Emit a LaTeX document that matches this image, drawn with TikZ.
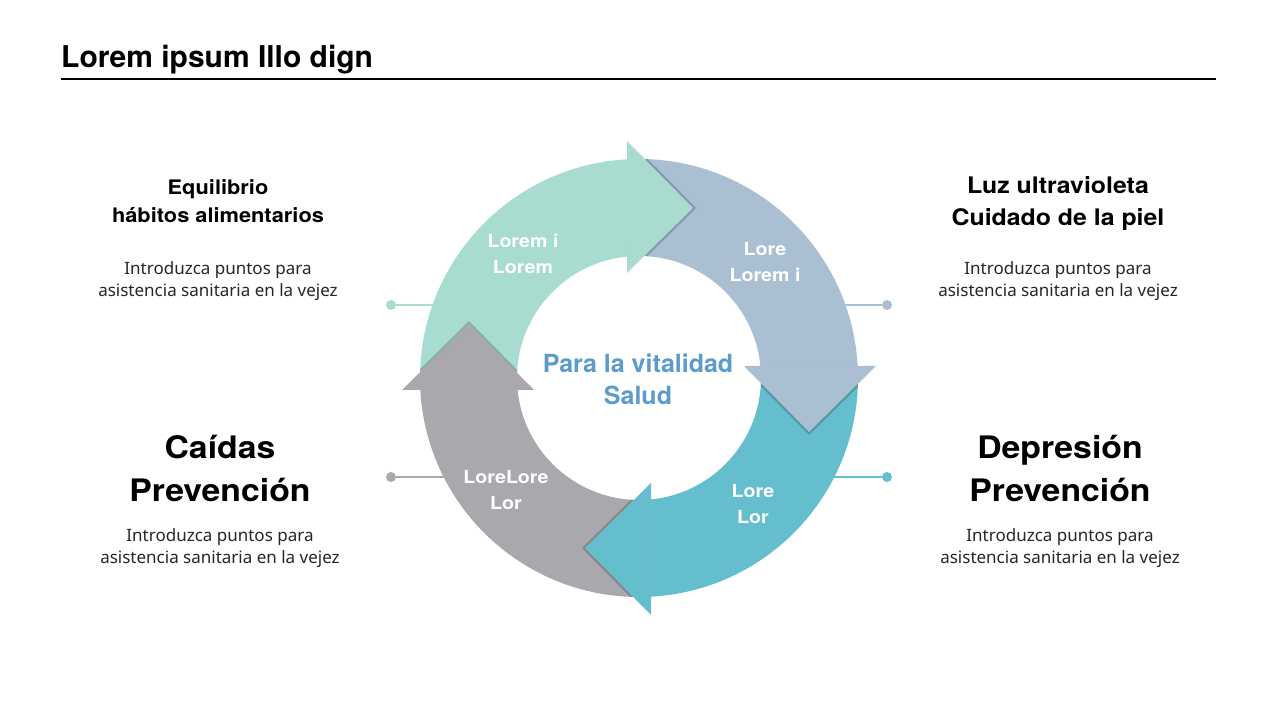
\documentclass[tikz,border=0pt]{standalone}
\usepackage{fontspec}
\setmainfont{Noto Sans}
\newfontfamily\headfont{TeX Gyre Heros}
\newfontfamily\topicfont{TeX Gyre Heros}[FakeStretch=1.09]
\definecolor{mint}{HTML}{A9DCD1}
\definecolor{steel}{HTML}{AABFD1}
\definecolor{sea}{HTML}{65BECD}
\definecolor{stone}{HTML}{A9A8AD}
\definecolor{vital}{HTML}{5B9CC9}
\begin{document}
\begin{tikzpicture}[x=1pt,y=1pt,
  head/.style 2 args={font=\headfont\bfseries\fontsize{#1}{#2}\selectfont,align=center,text=black},
  topic/.style 2 args={font=\topicfont\bfseries\fontsize{#1}{#2}\selectfont,align=center,text=black},
  body/.style={font=\fontsize{17}{22}\selectfont,align=center,text=black!85},
  ringtext/.style={font=\topicfont\bfseries\fontsize{18}{26}\selectfont,align=center,text=white},
  dot/.style={circle,fill=#1,inner sep=0pt,minimum size=10pt},
  link/.style={draw=#1,line width=2pt}]
\useasboundingbox (0,0) rectangle (1280,720);
\fill[white] (0,0) rectangle (1280,720);
\node[head={30}{36},anchor=base west,inner sep=0pt] (title) at (61,652) {Lorem ipsum Illo dign};
\draw[line width=1.3pt] (61,641) -- (1216,641);
% connectors
\node[dot=mint] (dotLT) at (391,415) {};
\node[dot=stone] (dotLB) at (391,243) {};
\node[dot=steel] (dotRT) at (887,415) {};
\node[dot=sea] (dotRB) at (887,243) {};
\coordinate (ringLT) at (470,415);
\coordinate (ringLB) at (470,243);
\coordinate (ringRT) at (810,415);
\coordinate (ringRB) at (810,243);
\draw[link=mint] (dotLT) -- (ringLT);
\draw[link=stone] (dotLB) -- (ringLB);
\draw[link=steel] (dotRT) -- (ringRT);
\draw[link=sea] (dotRB) -- (ringRB);
% cycle
\begin{scope}[shift={(639,342)}]
\foreach \a/\c in {90/mint,0/steel,-90/sea,-180/stone}
  \fill[\c] ({\a+93.14}:219) arc[start angle={\a+93.14},end angle={\a+3.14},radius=219]
    -- ({\a+5.65}:122) arc[start angle={\a+5.65},end angle={\a+95.65},radius=122] -- cycle;
\foreach \a/\c in {90/mint,0/steel,-90/sea,-180/stone}{
  \begin{scope}[even odd rule]
    \clip (0,0) circle (219) (0,0) circle (122);
    \fill[black,opacity=.2,rotate={\a-90}] (-9,105) -- (-9,237) -- (57,170) -- cycle;
  \end{scope}
  \fill[\c,rotate={\a-90}] (-12,105) -- (-12,237) -- (54,170) -- cycle;
}
\end{scope}
% labels
\node[ringtext] (lblMint) at (523,466) {Lorem i\\Lorem};
\node[ringtext] (lblSteel) at (765,458) {Lore\\Lorem i};
\node[ringtext] (lblStone) at (506,230) {LoreLore\\Lor};
\node[ringtext] (lblSea) at (753,216) {Lore\\Lor};
\node[head={25}{32},text=vital] (hub) at (638,341) {Para la vitalidad\\Salud};
\node[topic={20}{28}] (headLT) at (218,519) {Equilibrio\\hábitos alimentarios};
\node[body] (bodyLT) at (218,439) {Introduzca puntos para\\asistencia sanitaria en la vejez};
\node[topic={22.8}{32}] (headRT) at (1058,517) {Luz ultravioleta\\Cuidado de la piel};
\node[body] (bodyRT) at (1058,439) {Introduzca puntos para\\asistencia sanitaria en la vejez};
\node[topic={31}{43}] (headLB) at (220,252) {Caídas\\Prevención};
\node[body] (bodyLB) at (220,172) {Introduzca puntos para\\asistencia sanitaria en la vejez};
\node[topic={31}{43}] (headRB) at (1060,252) {Depresión\\Prevención};
\node[body] (bodyRB) at (1060,172) {Introduzca puntos para\\asistencia sanitaria en la vejez};
\end{tikzpicture}
\end{document}
